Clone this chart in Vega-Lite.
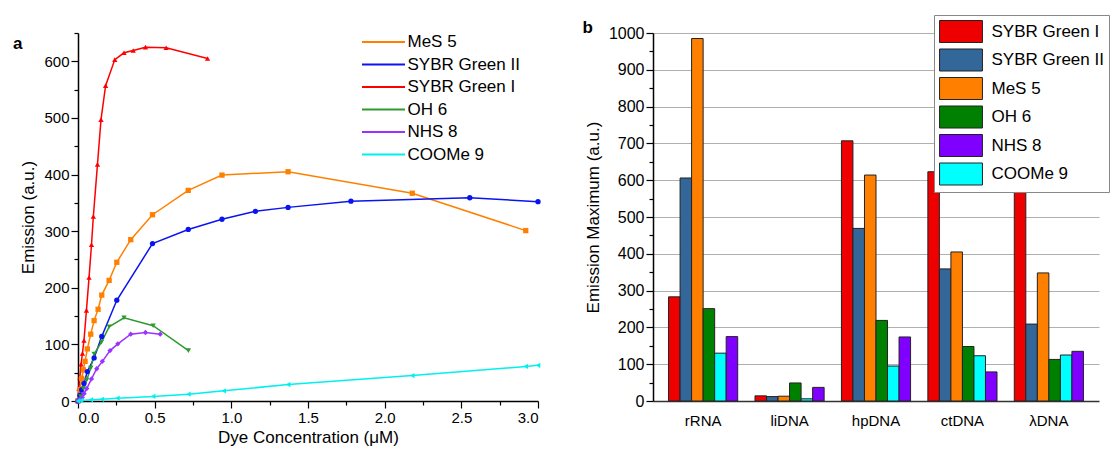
{
  "$schema": "https://vega.github.io/schema/vega-lite/v6.json",
  "padding": {"left": 12, "top": 14, "right": 0, "bottom": 5},
  "background": "white",
  "spacing": 41,
  "config": {
    "font": "Liberation Sans",
    "view": {"stroke": null},
    "axis": {"labelFont": "Liberation Sans", "titleFont": "Liberation Sans", "labelColor": "#000", "titleColor": "#000", "domainColor": "#000", "tickColor": "#000", "titleFontWeight": "normal", "domainWidth": 1.5, "tickWidth": 1.2},
    "legend": {"labelFont": "Liberation Sans", "labelColor": "#000"},
    "title": {"font": "Liberation Sans", "color": "#000"}
  },
  "resolve": {"scale": {"color": "independent", "x": "independent", "y": "independent"}, "legend": {"color": "independent"}},
  "hconcat": [
    {
      "width": 460,
      "height": 368,
      "title": {"text": "a", "anchor": "start", "frame": "bounds", "fontSize": 17, "fontWeight": "bold", "offset": -22, "dx": -7},
      "data": {"values": [
        {"dye": "SYBR Green I", "conc": 0, "em": 0},
        {"dye": "SYBR Green I", "conc": 0.006, "em": 22},
        {"dye": "SYBR Green I", "conc": 0.012, "em": 42},
        {"dye": "SYBR Green I", "conc": 0.02, "em": 65},
        {"dye": "SYBR Green I", "conc": 0.029, "em": 84},
        {"dye": "SYBR Green I", "conc": 0.039, "em": 107},
        {"dye": "SYBR Green I", "conc": 0.055, "em": 160},
        {"dye": "SYBR Green I", "conc": 0.072, "em": 218},
        {"dye": "SYBR Green I", "conc": 0.088, "em": 276},
        {"dye": "SYBR Green I", "conc": 0.1, "em": 326},
        {"dye": "SYBR Green I", "conc": 0.127, "em": 418},
        {"dye": "SYBR Green I", "conc": 0.15, "em": 497},
        {"dye": "SYBR Green I", "conc": 0.18, "em": 557},
        {"dye": "SYBR Green I", "conc": 0.24, "em": 603},
        {"dye": "SYBR Green I", "conc": 0.3, "em": 615},
        {"dye": "SYBR Green I", "conc": 0.36, "em": 619},
        {"dye": "SYBR Green I", "conc": 0.44, "em": 625},
        {"dye": "SYBR Green I", "conc": 0.575, "em": 624},
        {"dye": "SYBR Green I", "conc": 0.845, "em": 605},
        {"dye": "MeS 5", "conc": 0, "em": 0},
        {"dye": "MeS 5", "conc": 0.012, "em": 20},
        {"dye": "MeS 5", "conc": 0.024, "em": 40},
        {"dye": "MeS 5", "conc": 0.035, "em": 55},
        {"dye": "MeS 5", "conc": 0.046, "em": 70},
        {"dye": "MeS 5", "conc": 0.061, "em": 92},
        {"dye": "MeS 5", "conc": 0.083, "em": 118},
        {"dye": "MeS 5", "conc": 0.105, "em": 142},
        {"dye": "MeS 5", "conc": 0.131, "em": 162},
        {"dye": "MeS 5", "conc": 0.155, "em": 187},
        {"dye": "MeS 5", "conc": 0.203, "em": 213},
        {"dye": "MeS 5", "conc": 0.253, "em": 245},
        {"dye": "MeS 5", "conc": 0.344, "em": 285},
        {"dye": "MeS 5", "conc": 0.486, "em": 329},
        {"dye": "MeS 5", "conc": 0.719, "em": 372},
        {"dye": "MeS 5", "conc": 0.939, "em": 399},
        {"dye": "MeS 5", "conc": 1.37, "em": 405},
        {"dye": "MeS 5", "conc": 2.18, "em": 367},
        {"dye": "MeS 5", "conc": 2.92, "em": 301},
        {"dye": "SYBR Green II", "conc": 0, "em": 0},
        {"dye": "SYBR Green II", "conc": 0.012, "em": 10},
        {"dye": "SYBR Green II", "conc": 0.024, "em": 20},
        {"dye": "SYBR Green II", "conc": 0.039, "em": 31},
        {"dye": "SYBR Green II", "conc": 0.061, "em": 52},
        {"dye": "SYBR Green II", "conc": 0.105, "em": 76},
        {"dye": "SYBR Green II", "conc": 0.155, "em": 114},
        {"dye": "SYBR Green II", "conc": 0.253, "em": 178},
        {"dye": "SYBR Green II", "conc": 0.486, "em": 278},
        {"dye": "SYBR Green II", "conc": 0.719, "em": 303},
        {"dye": "SYBR Green II", "conc": 0.939, "em": 321},
        {"dye": "SYBR Green II", "conc": 1.157, "em": 335},
        {"dye": "SYBR Green II", "conc": 1.37, "em": 342},
        {"dye": "SYBR Green II", "conc": 1.78, "em": 353},
        {"dye": "SYBR Green II", "conc": 2.555, "em": 359},
        {"dye": "SYBR Green II", "conc": 3.0, "em": 352},
        {"dye": "OH 6", "conc": 0, "em": 0},
        {"dye": "OH 6", "conc": 0.018, "em": 8},
        {"dye": "OH 6", "conc": 0.035, "em": 22},
        {"dye": "OH 6", "conc": 0.057, "em": 37},
        {"dye": "OH 6", "conc": 0.083, "em": 58},
        {"dye": "OH 6", "conc": 0.105, "em": 83},
        {"dye": "OH 6", "conc": 0.153, "em": 104},
        {"dye": "OH 6", "conc": 0.203, "em": 131},
        {"dye": "OH 6", "conc": 0.3, "em": 147},
        {"dye": "OH 6", "conc": 0.49, "em": 133},
        {"dye": "OH 6", "conc": 0.72, "em": 89},
        {"dye": "NHS 8", "conc": 0, "em": 0},
        {"dye": "NHS 8", "conc": 0.01, "em": 3},
        {"dye": "NHS 8", "conc": 0.028, "em": 6},
        {"dye": "NHS 8", "conc": 0.04, "em": 13},
        {"dye": "NHS 8", "conc": 0.057, "em": 22},
        {"dye": "NHS 8", "conc": 0.088, "em": 39},
        {"dye": "NHS 8", "conc": 0.122, "em": 57},
        {"dye": "NHS 8", "conc": 0.159, "em": 70},
        {"dye": "NHS 8", "conc": 0.209, "em": 89},
        {"dye": "NHS 8", "conc": 0.26, "em": 101},
        {"dye": "NHS 8", "conc": 0.344, "em": 118},
        {"dye": "NHS 8", "conc": 0.44, "em": 121},
        {"dye": "NHS 8", "conc": 0.536, "em": 118},
        {"dye": "COOMe 9", "conc": 0, "em": 0},
        {"dye": "COOMe 9", "conc": 0.02, "em": 1},
        {"dye": "COOMe 9", "conc": 0.083, "em": 2},
        {"dye": "COOMe 9", "conc": 0.155, "em": 3},
        {"dye": "COOMe 9", "conc": 0.257, "em": 5},
        {"dye": "COOMe 9", "conc": 0.49, "em": 8},
        {"dye": "COOMe 9", "conc": 0.72, "em": 12},
        {"dye": "COOMe 9", "conc": 0.95, "em": 18},
        {"dye": "COOMe 9", "conc": 1.37, "em": 29},
        {"dye": "COOMe 9", "conc": 2.18, "em": 45},
        {"dye": "COOMe 9", "conc": 2.92, "em": 61},
        {"dye": "COOMe 9", "conc": 3.0, "em": 63}
      ]},
      "encoding": {
        "x": {"field": "conc", "type": "quantitative", "scale": {"domain": [0, 3], "nice": false, "zero": false},
          "axis": {"title": "Dye Concentration (μM)", "titleFontSize": 17, "labelFontSize": 15, "grid": false,
            "values": [0, 0.25, 0.5, 0.75, 1, 1.25, 1.5, 1.75, 2, 2.25, 2.5, 2.75, 3],
            "labelExpr": "round(datum.value*100) % 50 === 0 ? format(datum.value, '.1f') : ''",
            "tickSize": {"condition": {"test": "round(datum.value*100) % 50 === 0", "value": 7}, "value": 4},
            "labelPadding": 2, "titlePadding": 4}},
        "y": {"field": "em", "type": "quantitative", "scale": {"domain": [0, 650], "nice": false},
          "axis": {"title": "Emission (a.u.)", "titleFontSize": 17, "labelFontSize": 15, "grid": false,
            "values": [0, 50, 100, 150, 200, 250, 300, 350, 400, 450, 500, 550, 600, 650],
            "labelExpr": "datum.value % 100 === 0 ? datum.label : ''",
            "tickSize": {"condition": {"test": "datum.value % 100 === 0", "value": 7}, "value": 4},
            "labelPadding": 2, "titlePadding": 6}},
        "color": {"field": "dye", "type": "nominal",
          "scale": {"domain": ["MeS 5", "SYBR Green II", "SYBR Green I", "OH 6", "NHS 8", "COOMe 9"],
                    "range": ["#ff8000", "#0a14f0", "#ff0000", "#2e9a2e", "#9933ff", "#00f0f0"]},
          "legend": {"orient": "none", "legendX": 283, "legendY": -2, "title": null,
            "symbolType": "M-2.15,0H2.15", "symbolSize": 400, "symbolOffset": 11.5, "symbolStrokeWidth": 2,
            "labelFontSize": 17, "labelLimit": 200, "rowPadding": 3.5, "labelOffset": 13}}
      },
      "layer": [
        {"mark": {"type": "line", "strokeWidth": 1.5}},
        {"mark": {"type": "point", "filled": true, "size": 28, "opacity": 1},
          "encoding": {"shape": {"field": "dye", "type": "nominal",
            "scale": {"domain": ["MeS 5", "SYBR Green II", "SYBR Green I", "OH 6", "NHS 8", "COOMe 9"],
                      "range": ["square", "circle", "triangle-up", "triangle-down", "diamond", "triangle-left"]},
            "legend": null}}}
      ]
    },
    {
      "width": 446,
      "height": 368,
      "title": {"text": "b", "anchor": "start", "frame": "bounds", "fontSize": 17, "fontWeight": "bold", "offset": -22, "dx": -2},
      "data": {"values": [
        {"sample": "rRNA", "dye": "SYBR Green I", "value": 283},
        {"sample": "rRNA", "dye": "SYBR Green II", "value": 606},
        {"sample": "rRNA", "dye": "MeS 5", "value": 985},
        {"sample": "rRNA", "dye": "OH 6", "value": 251},
        {"sample": "rRNA", "dye": "COOMe 9", "value": 130},
        {"sample": "rRNA", "dye": "NHS 8", "value": 175},
        {"sample": "liDNA", "dye": "SYBR Green I", "value": 14},
        {"sample": "liDNA", "dye": "SYBR Green II", "value": 12},
        {"sample": "liDNA", "dye": "MeS 5", "value": 13},
        {"sample": "liDNA", "dye": "OH 6", "value": 49},
        {"sample": "liDNA", "dye": "COOMe 9", "value": 6},
        {"sample": "liDNA", "dye": "NHS 8", "value": 37},
        {"sample": "hpDNA", "dye": "SYBR Green I", "value": 707},
        {"sample": "hpDNA", "dye": "SYBR Green II", "value": 469},
        {"sample": "hpDNA", "dye": "MeS 5", "value": 614},
        {"sample": "hpDNA", "dye": "OH 6", "value": 219},
        {"sample": "hpDNA", "dye": "COOMe 9", "value": 95},
        {"sample": "hpDNA", "dye": "NHS 8", "value": 174},
        {"sample": "ctDNA", "dye": "SYBR Green I", "value": 623},
        {"sample": "ctDNA", "dye": "SYBR Green II", "value": 359},
        {"sample": "ctDNA", "dye": "MeS 5", "value": 405},
        {"sample": "ctDNA", "dye": "OH 6", "value": 148},
        {"sample": "ctDNA", "dye": "COOMe 9", "value": 123},
        {"sample": "ctDNA", "dye": "NHS 8", "value": 79},
        {"sample": "λDNA", "dye": "SYBR Green I", "value": 596},
        {"sample": "λDNA", "dye": "SYBR Green II", "value": 209},
        {"sample": "λDNA", "dye": "MeS 5", "value": 348},
        {"sample": "λDNA", "dye": "OH 6", "value": 113},
        {"sample": "λDNA", "dye": "COOMe 9", "value": 125},
        {"sample": "λDNA", "dye": "NHS 8", "value": 135}
      ]},
      "mark": {"type": "bar", "stroke": "#222", "strokeWidth": 1},
      "encoding": {
        "x": {"field": "sample", "type": "nominal", "sort": ["rRNA", "liDNA", "hpDNA", "ctDNA", "λDNA"],
          "scale": {"paddingInner": 0.2, "paddingOuter": 0.18},
          "axis": {"title": null, "labelAngle": 0, "ticks": false, "labelFontSize": 15, "labelPadding": 12, "domainColor": "#333"}},
        "xOffset": {"field": "dye", "type": "nominal",
          "scale": {"domain": ["SYBR Green I", "SYBR Green II", "MeS 5", "OH 6", "COOMe 9", "NHS 8"], "paddingInner": 0, "paddingOuter": 0}},
        "y": {"field": "value", "type": "quantitative", "scale": {"domain": [0, 1000], "nice": false},
          "axis": {"title": "Emission Maximum (a.u.)", "titleFontSize": 17, "labelFontSize": 16,
            "values": [0, 50, 100, 150, 200, 250, 300, 350, 400, 450, 500, 550, 600, 650, 700, 750, 800, 850, 900, 950, 1000],
            "labelExpr": "datum.value % 100 === 0 ? format(datum.value, 'd') : ''",
            "tickSize": {"condition": {"test": "datum.value % 100 === 0", "value": 7}, "value": 4},
            "grid": true, "gridColor": "#b0b0b0", "gridWidth": 1.2,
            "gridOpacity": {"condition": {"test": "datum.value % 100 === 0 && datum.value > 0", "value": 1}, "value": 0},
            "labelPadding": 2, "titlePadding": 6}},
        "color": {"field": "dye", "type": "nominal",
          "scale": {"domain": ["SYBR Green I", "SYBR Green II", "MeS 5", "OH 6", "NHS 8", "COOMe 9"],
                    "range": ["#ee0000", "#336699", "#ff8000", "#008000", "#8000ff", "#00ffff"]},
          "legend": {"orient": "none", "legendX": 281, "legendY": -18, "title": null,
            "symbolType": "M-1.95,-1H1.95V1H-1.95Z", "symbolSize": 484, "symbolOffset": 10.5, "symbolStrokeColor": "#222", "symbolStrokeWidth": 1,
            "symbolOpacity": 1, "labelFontSize": 17, "labelLimit": 200, "strokeColor": "#888", "fillColor": "white",
            "padding": 5, "rowPadding": 1.5, "labelOffset": 19}}
      }
    }
  ]
}
